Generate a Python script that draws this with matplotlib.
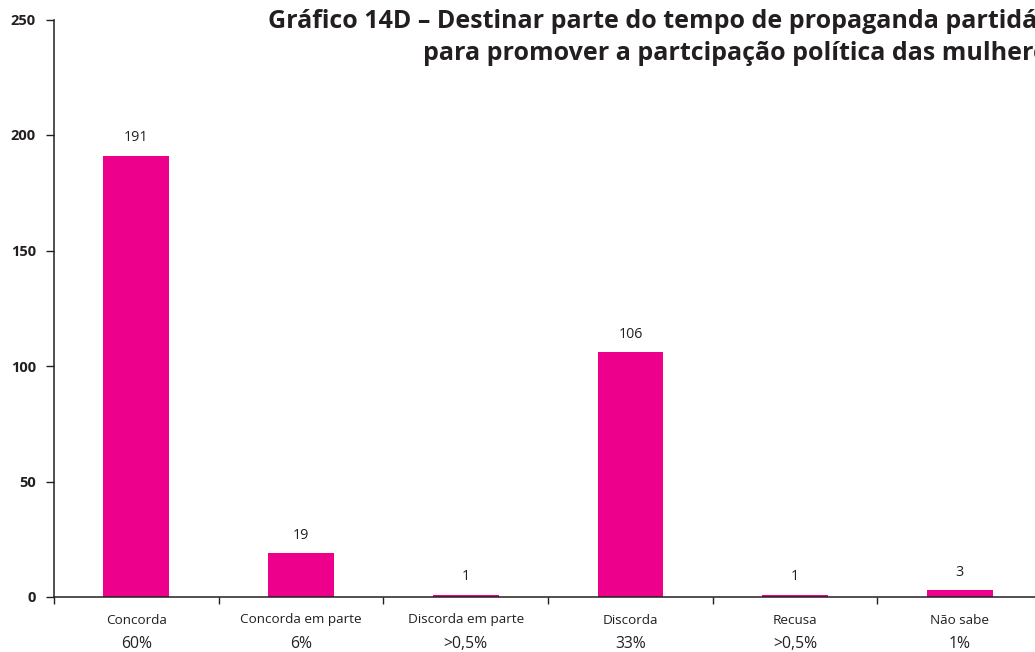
import matplotlib
matplotlib.use("Agg")
import matplotlib.pyplot as plt
from matplotlib.transforms import blended_transform_factory

categories = ["Concorda", "Concorda em parte", "Discorda em parte",
              "Discorda", "Recusa", "Não sabe"]
counts = [191, 19, 1, 106, 1, 3]
shares = ["60%", "6%", ">0,5%", "33%", ">0,5%", "1%"]
yticks = [0, 50, 100, 150, 200, 250]

title_1 = "Gráfico 14D – Destinar parte do tempo de propaganda partidária"
title_2 = "para promover a partcipação política das mulheres"

BAR = "#EC008C"
INK = "#231F20"

plt.rcParams["font.family"] = ["Open Sans", "DejaVu Sans"]

fig = plt.figure(figsize=(10.35, 6.52), dpi=100)
W, H = 1035, 652
step = 164.7
ax_h = 597 - 19.5
ax = fig.add_axes([54 / W, 55 / H, 6 * step / W, ax_h / H])

x = list(range(len(categories)))
ax.bar(x, counts, width=0.4, color=BAR, zorder=2)
for xi, v in zip(x, counts):
    ax.text(xi, v + 4.5, str(v), ha="center", va="bottom", fontsize=10.3, color=INK)

ax.set_xlim(-0.5, len(categories) - 0.5)
ax.set_ylim(0, 250)
ax.set_yticks(yticks)
ax.set_yticklabels([str(t) for t in yticks], fontweight="bold", fontsize=10.5, color=INK)
ax.tick_params(axis="y", direction="out", length=6, width=1, pad=7, color=INK)

# tick marks sit on the category boundaries
ax.set_xticks([i - 0.5 for i in range(len(categories) + 1)])
ax.set_xticklabels([])
ax.tick_params(axis="x", direction="out", length=5, width=1, color=INK)

tr = blended_transform_factory(ax.transData, ax.transAxes)
for xi, name, pct in zip(x, categories, shares):
    ax.text(xi, -23 / ax_h, name, transform=tr, ha="center", va="center",
            fontsize=9.7, color=INK)
    ax.text(xi, -47 / ax_h, pct, transform=tr, ha="center", va="center",
            fontsize=11.3, color=INK)

for side in ("top", "right"):
    ax.spines[side].set_visible(False)
for side in ("left", "bottom"):
    ax.spines[side].set_linewidth(1.1)
    ax.spines[side].set_color(INK)

fig.text(268 / W, 1 - 9 / H, title_1, ha="left", va="top", fontsize=18,
         fontweight="bold", color=INK)
fig.text(423 / W, 1 - 41 / H, title_2, ha="left", va="top", fontsize=18,
         fontweight="bold", color=INK)

fig.savefig("out.png", dpi=100, facecolor="white")
